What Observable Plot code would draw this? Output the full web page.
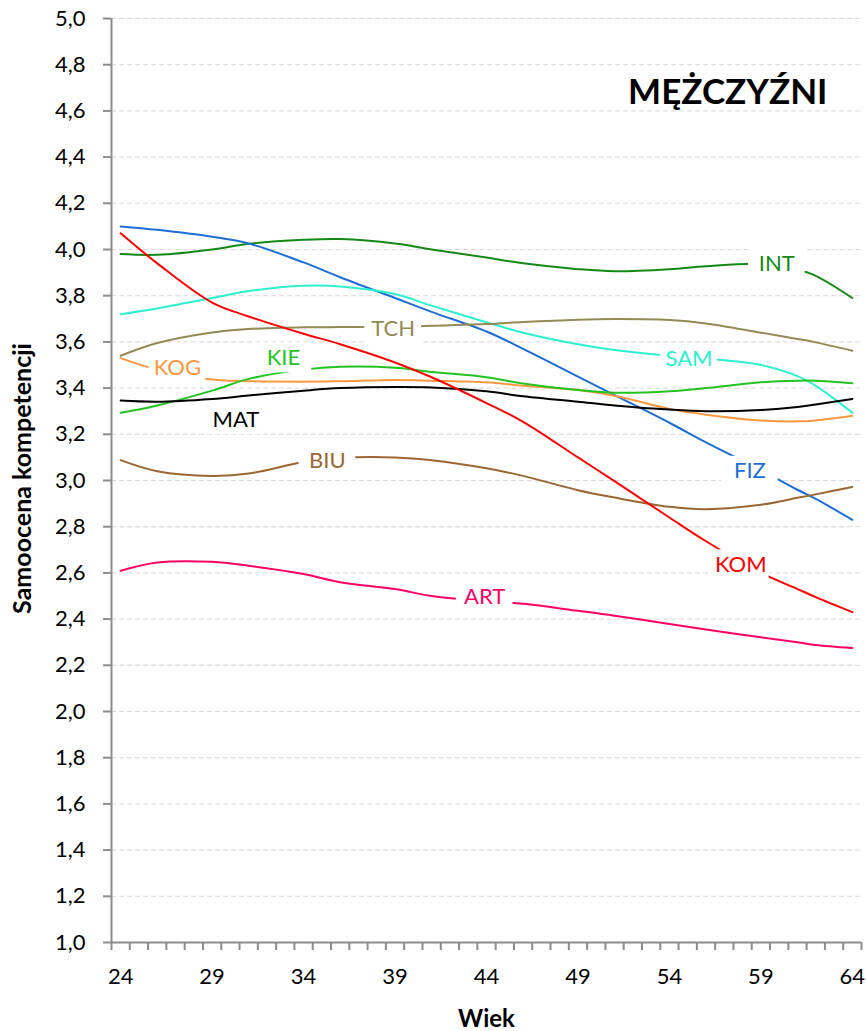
<!DOCTYPE html>
<html><head><meta charset="utf-8">
<script src="https://cdn.jsdelivr.net/npm/d3@7"></script>
<script src="https://cdn.jsdelivr.net/npm/@observablehq/plot@0.6"></script>
<style>html,body{margin:0;padding:0;background:#fff;overflow:hidden}#chart svg{display:block}</style>
</head><body><div id="chart"></div>
<script>
// Ages (x categories) at which values were read
const ages = [24,26,29,31,34,36,39,41,44,46,49,51,54,56,59,61,62,64];

const INT = [3.98,3.977,4.0,4.025,4.042,4.045,4.026,4.0,3.965,3.94,3.915,3.906,3.915,3.928,3.937,3.912,3.886,3.79];
const FIZ = [4.10,4.085,4.055,4.026,3.944,3.88,3.79,3.73,3.645,3.57,3.45,3.37,3.25,3.165,3.045,2.96,2.92,2.83];
const SAM = [3.72,3.745,3.79,3.82,3.843,3.84,3.807,3.757,3.685,3.64,3.59,3.565,3.54,3.528,3.50,3.452,3.41,3.294];
const TCH = [3.54,3.595,3.641,3.656,3.663,3.664,3.665,3.67,3.677,3.686,3.696,3.699,3.695,3.68,3.64,3.613,3.598,3.562];
const KOG = [3.53,3.48,3.437,3.43,3.428,3.43,3.435,3.432,3.425,3.41,3.392,3.367,3.31,3.285,3.26,3.256,3.26,3.28];
const KIE = [3.293,3.325,3.389,3.44,3.48,3.492,3.488,3.47,3.447,3.42,3.392,3.38,3.386,3.40,3.425,3.432,3.432,3.421];
const MAT = [3.346,3.341,3.353,3.368,3.389,3.40,3.405,3.403,3.386,3.365,3.341,3.325,3.307,3.30,3.305,3.318,3.329,3.353];
const BIU = [3.088,3.04,3.02,3.03,3.08,3.098,3.10,3.088,3.053,3.02,2.958,2.926,2.886,2.876,2.895,2.925,2.94,2.972];
const KOM = [4.07,3.94,3.77,3.71,3.635,3.59,3.511,3.447,3.335,3.254,3.10,2.997,2.84,2.737,2.60,2.53,2.495,2.43];
const ART = [2.609,2.645,2.648,2.631,2.595,2.56,2.53,2.50,2.478,2.466,2.436,2.415,2.379,2.355,2.321,2.30,2.288,2.275];

const seriesNames  = ["INT","FIZ","SAM","TCH","KOG","KIE","MAT","BIU","KOM","ART"];
const seriesValues = [INT, FIZ, SAM, TCH, KOG, KIE, MAT, BIU, KOM, ART];
const seriesColors = ["#148A14","#1C6ED4","#2CF0D0","#948A54","#FA9840","#22C322","#000000","#9A6631","#FF0000","#FF0066"];

// Series label annotations (position in data units)
const labelAges   = [59.87, 58.4, 55.07, 38.9, 27.1, 32.9, 30.3, 35.3, 57.9, 43.9];
const labelValues = [3.938, 3.040, 3.527, 3.657, 3.488, 3.531, 3.263, 3.083, 2.635, 2.494];

const yTicks = [1.0,1.2,1.4,1.6,1.8,2.0,2.2,2.4,2.6,2.8,3.0,3.2,3.4,3.6,3.8,4.0,4.2,4.4,4.6,4.8,5.0];
const xTicks = [24,29,34,39,44,49,54,59,64];
const categories = d3.range(24, 65);

const title = "MĘŻCZYŹNI";
const yTitle = "Samoocena kompetencji";
const xTitle = "Wiek";

const rows = seriesNames.flatMap((s, i) => ages.map((a, j) => ({series: s, age: a, value: seriesValues[i][j]})));
const labels = seriesNames.map((s, i) => ({series: s, age: labelAges[i], value: labelValues[i]}));
const boundaries = [...categories.map(c => c - 0.5), categories[categories.length - 1] + 0.5];

const axisGray = "#8c8c8c";

const chart = Plot.plot({
  width: 867,
  height: 1031,
  marginLeft: 111,
  marginRight: 6,
  marginTop: 18,
  marginBottom: 89,
  style: {fontFamily: "Lato, 'Open Sans', sans-serif", fontSize: "22px", color: "#000", background: "#fff"},
  x: {domain: [23.5, 64.5], axis: null},
  y: {domain: [1, 5], axis: null},
  color: {domain: seriesNames, range: seriesColors},
  marks: [
    Plot.ruleY(yTicks.filter(v => v > 1), {stroke: "#d9d9d9", strokeDasharray: "5,3", strokeWidth: 1}),
    Plot.axisY(yTicks, {tickSize: 8, tickPadding: 18, stroke: axisGray, strokeWidth: 2, fontSize: 22,
      tickFormat: d => d.toFixed(1).replace(".", ","), label: null}),
    Plot.axisX(boundaries, {tickSize: 8, stroke: axisGray, strokeWidth: 2, tickFormat: () => "", label: null}),
    Plot.axisX(xTicks, {tickSize: 0, tickPadding: 26, fontSize: 22, tickFormat: d => String(d), label: null}),
    Plot.ruleX([23.5], {stroke: axisGray, strokeWidth: 2}),
    Plot.ruleY([1], {stroke: axisGray, strokeWidth: 2}),
    Plot.line(rows, {x: "age", y: "value", z: "series", stroke: "series", strokeWidth: 2, curve: "catmull-rom"}),
    Plot.rect(labels, {x1: d => d.age - 1.55, x2: d => d.age + 1.55, y1: d => d.value - 0.065, y2: d => d.value + 0.065, fill: "#fff"}),
    Plot.text(labels, {x: "age", y: "value", text: "series", fill: "series", fontSize: 22}),
    Plot.text([title], {text: d => d, frameAnchor: "top-right", textAnchor: "end", lineAnchor: "middle", dx: -34, dy: 74, fontSize: 35, fontWeight: "bold"}),
    Plot.text([yTitle], {text: d => d, frameAnchor: "left", textAnchor: "middle", lineAnchor: "middle", rotate: -90, dx: -88.5, dy: -2, fontSize: 25, fontWeight: "bold"}),
    Plot.text([xTitle], {text: d => d, frameAnchor: "bottom", lineAnchor: "middle", dy: 77, fontSize: 24, fontWeight: "bold"})
  ]
});
document.getElementById("chart").appendChild(chart);
</script>
</body></html>
